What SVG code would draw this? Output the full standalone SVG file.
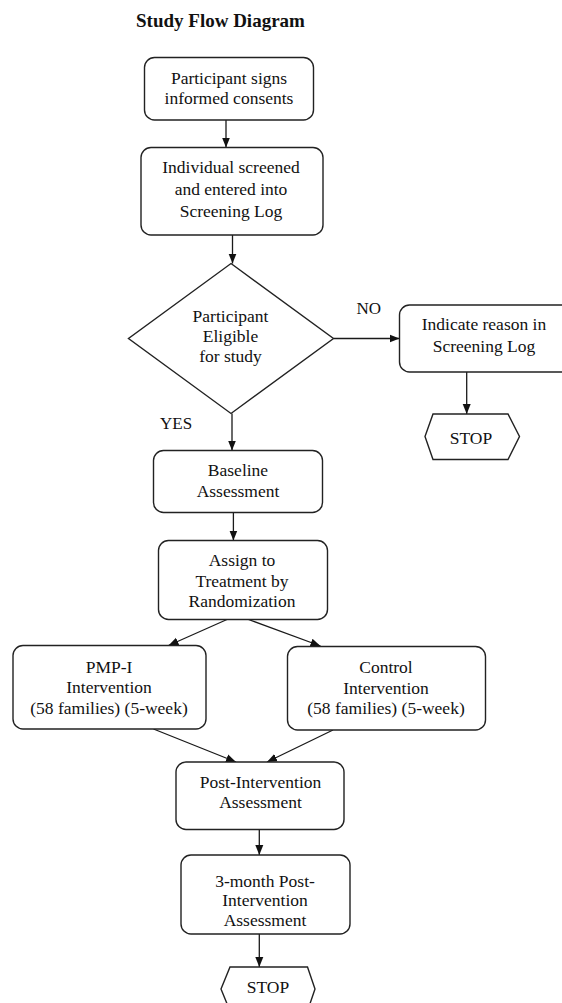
<svg xmlns="http://www.w3.org/2000/svg" width="562" height="1003" viewBox="0 0 562 1003">
<style>
.node{fill:#fff;stroke:#222;stroke-width:1.4}
.t{font-family:"Liberation Serif","Times New Roman",serif;font-size:17.5px;fill:#111;text-anchor:middle}
.lbl{font-family:"Liberation Serif","Times New Roman",serif;font-size:17px;fill:#111}
.title{font-family:"Liberation Serif","Times New Roman",serif;font-size:19px;font-weight:bold;fill:#111}
.edge{fill:none;stroke:#1a1a1a;stroke-width:1.3;marker-end:url(#ah)}
</style>
<defs>
<marker id="ah" markerUnits="userSpaceOnUse" markerWidth="10" markerHeight="10" viewBox="0 0 10 10" refX="10" refY="5" orient="auto">
<path d="M0,1 L10,5 L0,9 Z" fill="#111"/>
</marker>
</defs>
<rect width="562" height="1003" fill="#fff"/>
<text class="title" x="136" y="27">Study Flow Diagram</text>

<g id="connectors">
<line class="edge" x1="226" y1="120" x2="226" y2="147.5"/>
<line class="edge" x1="232.5" y1="235" x2="232.5" y2="263.5"/>
<line class="edge" x1="333.5" y1="338.5" x2="399.5" y2="338.5"/>
<line class="edge" x1="466.7" y1="372" x2="466.7" y2="414"/>
<line class="edge" x1="232" y1="413.5" x2="232" y2="450.5"/>
<line class="edge" x1="233.4" y1="512.5" x2="233.4" y2="540.5"/>
<line class="edge" x1="227" y1="619.5" x2="168.5" y2="645.5"/>
<line class="edge" x1="248.5" y1="619.5" x2="320.5" y2="646"/>
<line class="edge" x1="153.5" y1="729" x2="236" y2="762"/>
<line class="edge" x1="333" y1="730" x2="267" y2="762"/>
<line class="edge" x1="259.3" y1="829.5" x2="259.3" y2="855"/>
<line class="edge" x1="259.3" y1="934" x2="259.3" y2="967"/>
<text class="lbl" x="356.5" y="314">NO</text>
<text class="lbl" x="160" y="429.3">YES</text>
</g>

<g id="consent">
<rect class="node" x="144.5" y="57.5" width="169" height="62.5" rx="10"/>
<text class="t" x="229" y="83.5">Participant signs</text>
<text class="t" x="229" y="104">informed consents</text>
</g>

<g id="screened">
<rect class="node" x="141" y="147.5" width="182" height="87.5" rx="10"/>
<text class="t" x="231" y="173">Individual screened</text>
<text class="t" x="231" y="195">and entered into</text>
<text class="t" x="231" y="216.5">Screening Log</text>
</g>

<g id="eligible">
<polygon class="node" points="231,263.5 333.5,338.5 231,413.5 128.5,338.5"/>
<text class="t" x="230.5" y="321.7">Participant</text>
<text class="t" x="230.5" y="341.7">Eligible</text>
<text class="t" x="230.5" y="361.7">for study</text>
</g>

<g id="reason">
<rect class="node" x="399.5" y="305" width="172" height="67" rx="10"/>
<text class="t" x="484" y="330">Indicate reason in</text>
<text class="t" x="484" y="351.7">Screening Log</text>
</g>

<g id="stop1">
<polygon class="node" points="433,414 508,414 519.5,436.5 508,459.5 433,459.5 425,436.5"/>
<text class="t" x="471" y="444">STOP</text>
</g>

<g id="baseline">
<rect class="node" x="153.5" y="450.5" width="169" height="62" rx="10"/>
<text class="t" x="238" y="476">Baseline</text>
<text class="t" x="238" y="497.3">Assessment</text>
</g>

<g id="assign">
<rect class="node" x="158.5" y="540.5" width="169" height="79" rx="10"/>
<text class="t" x="242" y="566">Assign to</text>
<text class="t" x="242" y="586.7">Treatment by</text>
<text class="t" x="242" y="606.7">Randomization</text>
</g>

<g id="pmpi">
<rect class="node" x="13" y="645.5" width="193" height="83.5" rx="10"/>
<text class="t" x="109" y="672.5">PMP-I</text>
<text class="t" x="109" y="693">Intervention</text>
<text class="t" x="109" y="713.5">(58 families) (5-week)</text>
</g>

<g id="control">
<rect class="node" x="287.5" y="646.5" width="198" height="83.5" rx="10"/>
<text class="t" x="386" y="673.3">Control</text>
<text class="t" x="386" y="694">Intervention</text>
<text class="t" x="386" y="714">(58 families) (5-week)</text>
</g>

<g id="post">
<rect class="node" x="176" y="762" width="168" height="67.5" rx="10"/>
<text class="t" x="260.5" y="788.3">Post-Intervention</text>
<text class="t" x="260.5" y="808.3">Assessment</text>
</g>

<g id="month3">
<rect class="node" x="181" y="855" width="169" height="79" rx="10"/>
<text class="t" x="265" y="886.7">3-month Post-</text>
<text class="t" x="265" y="906.3">Intervention</text>
<text class="t" x="265" y="926">Assessment</text>
</g>

<g id="stop2">
<polygon class="node" points="230,967 307.5,967 315,989 307.5,1011 230,1011 221,989"/>
<text class="t" x="268" y="993.3">STOP</text>
</g>
</svg>
